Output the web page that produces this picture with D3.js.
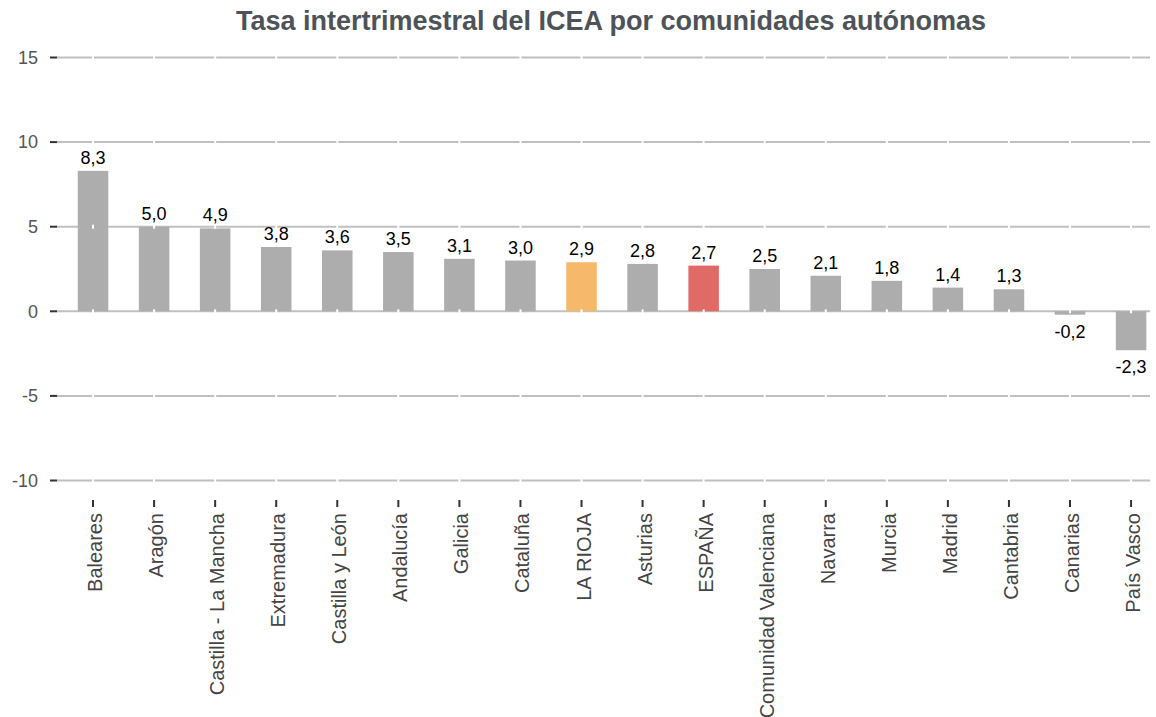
<!DOCTYPE html>
<html>
<head>
<meta charset="utf-8">
<script src="https://cdn.jsdelivr.net/npm/d3@7"></script>
<style>
  body { margin: 0; background: #fff; }
  svg { display: block; font-family: "Liberation Sans", Arial, sans-serif; }
</style>
</head>
<body>
<script>
var svgwidth = 1156, svgheight = 717;

// data
var regiones = ["Baleares", "Aragón", "Castilla - La Mancha", "Extremadura", "Castilla y León",
  "Andalucía", "Galicia", "Cataluña", "LA RIOJA", "Asturias", "ESPAÑA", "Comunidad Valenciana",
  "Navarra", "Murcia", "Madrid", "Cantabria", "Canarias", "País Vasco"];
var tasas = [8.3, 5.0, 4.9, 3.8, 3.6, 3.5, 3.1, 3.0, 2.9, 2.8, 2.7, 2.5, 2.1, 1.8, 1.4, 1.3, -0.2, -2.3];
var yTicks = [-10, -5, 0, 5, 10, 15];
var titulo = "Tasa intertrimestral del ICEA por comunidades autónomas";

var colorBase = "#adadad", colorRioja = "#f6b96b", colorEspana = "#e06a66";

var svg = d3.select("body").append("svg")
    .attr("width", svgwidth)
    .attr("height", svgheight);

var x = d3.scaleBand().domain(regiones).range([62.5, 1161.6])
    .paddingInner(0.5).paddingOuter(0.25);
var y = d3.scaleLinear().domain([-10, 15]).range([480.5, 57.5]);

var gridLeft = 57, gridRight = 1150;

// title
svg.append("text")
    .attr("x", 611).attr("y", 30)
    .attr("text-anchor", "middle")
    .attr("font-size", 27).attr("font-weight", "bold")
    .attr("fill", "#4d5358")
    .text(titulo);

// gridlines
svg.append("g").selectAll("line").data(yTicks).enter().append("line")
    .attr("x1", gridLeft).attr("x2", gridRight)
    .attr("y1", function(d) { return y(d); })
    .attr("y2", function(d) { return y(d); })
    .attr("stroke", "#c0c0c0").attr("stroke-width", 2);

// bars
svg.append("g").selectAll("rect").data(tasas).enter().append("rect")
    .attr("x", function(d, i) { return x(regiones[i]); })
    .attr("width", x.bandwidth())
    .attr("y", function(d) { return y(Math.max(0, d)); })
    .attr("height", function(d) { return Math.abs(y(d) - y(0)); })
    .attr("fill", function(d, i) {
      if (regiones[i] === "LA RIOJA") return colorRioja;
      if (regiones[i] === "ESPAÑA") return colorEspana;
      return colorBase;
    });

// white gaps on gridlines at category centres
var gaps = svg.append("g");
yTicks.forEach(function(t) {
  regiones.forEach(function(r) {
    var cx = x(r) + x.bandwidth() / 2;
    gaps.append("line")
      .attr("x1", cx).attr("x2", cx)
      .attr("y1", y(t) - 2).attr("y2", y(t) + 2)
      .attr("stroke", "#fff").attr("stroke-width", 2);
  });
});

// y axis ticks and labels
var yAxis = svg.append("g");
yAxis.selectAll("line").data(yTicks).enter().append("line")
    .attr("x1", 50).attr("x2", gridLeft)
    .attr("y1", function(d) { return y(d); })
    .attr("y2", function(d) { return y(d); })
    .attr("stroke", "#333").attr("stroke-width", 2);
yAxis.selectAll("text").data(yTicks).enter().append("text")
    .attr("x", 38)
    .attr("y", function(d) { return y(d); })
    .attr("dy", "0.35em")
    .attr("text-anchor", "end")
    .attr("font-size", 18)
    .attr("fill", "#555")
    .text(function(d) { return d; });

// x axis ticks and labels
var xAxis = svg.append("g");
xAxis.selectAll("line").data(regiones).enter().append("line")
    .attr("x1", function(d) { return x(d) + x.bandwidth() / 2; })
    .attr("x2", function(d) { return x(d) + x.bandwidth() / 2; })
    .attr("y1", 500).attr("y2", 507)
    .attr("stroke", "#333").attr("stroke-width", 2);
xAxis.selectAll("text").data(regiones).enter().append("text")
    .attr("transform", function(d) {
      return "translate(" + (x(d) + x.bandwidth() / 2 + 9) + ",513) rotate(-90)";
    })
    .attr("text-anchor", "end")
    .attr("font-size", 20)
    .attr("fill", "#444")
    .text(function(d) { return d; });

// value labels
var fmt = function(v) { return v.toFixed(1).replace(".", ","); };
svg.append("g").selectAll("text").data(tasas).enter().append("text")
    .attr("x", function(d, i) { return x(regiones[i]) + x.bandwidth() / 2; })
    .attr("y", function(d) { return d >= 0 ? y(d) - 7 : y(d) + 23; })
    .attr("text-anchor", "middle")
    .attr("font-size", 18)
    .attr("fill", "#000")
    .text(fmt);
</script>
</body>
</html>
